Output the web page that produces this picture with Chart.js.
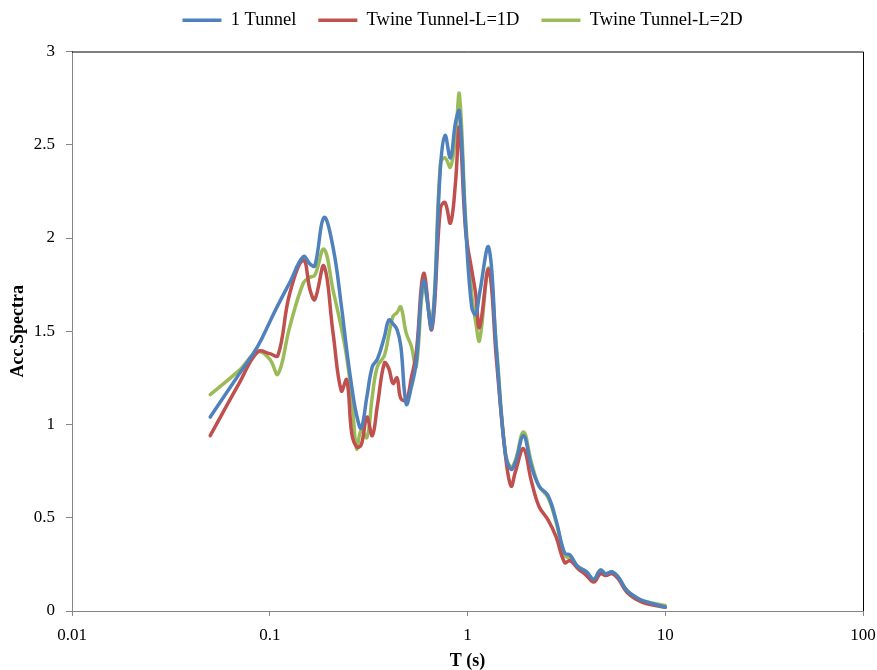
<!DOCTYPE html>
<html>
<head>
<meta charset="utf-8">
<script src="https://cdn.jsdelivr.net/npm/chart.js@4/dist/chart.umd.min.js"></script>
<style>
  html, body { margin: 0; padding: 0; background: #ffffff; }
  #wrap { width: 877px; height: 670px; }
</style>
</head>
<body>
<div id="wrap"><canvas id="spectraChart" width="877" height="670"></canvas></div>
<script>
const colors = {
    blue: '#4f81bd',
    red: '#c0504d',
    green: '#9bbb59',
    axis: '#868686'
};

// Period T (s)
const periods = [0.05, 0.07, 0.087, 0.1, 0.11, 0.126, 0.148, 0.16, 0.169, 0.188,
    0.209, 0.23, 0.245, 0.26, 0.275, 0.29, 0.31, 0.33, 0.35, 0.38,
    0.40, 0.42, 0.44, 0.46, 0.49, 0.52, 0.55, 0.6, 0.66, 0.73,
    0.77, 0.82, 0.87, 0.91, 0.98, 1.05, 1.1, 1.15, 1.28, 1.4,
    1.55, 1.66, 1.75, 1.92, 2.1, 2.3, 2.55, 2.8, 3.1, 3.3,
    3.6, 4.0, 4.35, 4.7, 5.0, 5.4, 5.8, 6.4, 7.2, 8.0, 10];

const oneTunnel = [1.04, 1.27, 1.42, 1.55, 1.64, 1.76, 1.90, 1.86, 1.85, 2.11,
    1.95, 1.64, 1.40, 1.20, 1.05, 0.98, 1.15, 1.31, 1.35, 1.47,
    1.56, 1.54, 1.51, 1.42, 1.11, 1.20, 1.33, 1.77, 1.52, 2.38,
    2.55, 2.43, 2.62, 2.68, 2.05, 1.63, 1.59, 1.70, 1.95, 1.40,
    0.85, 0.76, 0.80, 0.94, 0.78, 0.67, 0.62, 0.49, 0.31, 0.30,
    0.24, 0.21, 0.17, 0.22, 0.20, 0.21, 0.18, 0.11, 0.07, 0.05, 0.02];

const twinL1D = [0.94, 1.22, 1.39, 1.38, 1.37, 1.70, 1.88, 1.72, 1.67, 1.85,
    1.49, 1.18, 1.24, 0.95, 0.88, 0.89, 1.04, 0.94, 1.10, 1.33,
    1.30, 1.22, 1.25, 1.14, 1.13, 1.25, 1.38, 1.81, 1.51, 2.16,
    2.19, 2.08, 2.30, 2.59, 2.03, 1.83, 1.70, 1.52, 1.83, 1.35,
    0.85, 0.67, 0.75, 0.87, 0.70, 0.56, 0.49, 0.40, 0.26, 0.27,
    0.23, 0.19, 0.155, 0.20, 0.19, 0.20, 0.17, 0.10, 0.06, 0.04, 0.02];

const twinL2D = [1.16, 1.29, 1.39, 1.35, 1.27, 1.52, 1.76, 1.79, 1.80, 1.94,
    1.72, 1.52, 1.36, 1.15, 0.87, 0.97, 0.93, 1.15, 1.31, 1.37,
    1.48, 1.58, 1.60, 1.63, 1.49, 1.42, 1.31, 1.74, 1.54, 2.40,
    2.43, 2.38, 2.55, 2.77, 2.09, 1.70, 1.55, 1.45, 1.84, 1.42,
    0.86, 0.77, 0.81, 0.96, 0.80, 0.67, 0.61, 0.48, 0.30, 0.28,
    0.24, 0.21, 0.17, 0.22, 0.20, 0.21, 0.18, 0.11, 0.07, 0.05, 0.03];

const xTicks = [0.01, 0.1, 1, 10, 100];

function toPoints(values) {
    return periods.map((t, i) => ({ x: t, y: values[i] }));
}

function seriesStyle(label, values, color) {
    return {
        label: label,
        data: toPoints(values),
        borderColor: color,
        backgroundColor: color,
        borderWidth: 3.5,
        borderCapStyle: 'round',
        borderJoinStyle: 'round',
        pointRadius: 0,
        pointHoverRadius: 0,
        pointStyle: 'line',
        tension: 0.4,
        fill: false
    };
}

// marco negro arriba y a la derecha
const frameBorder = {
    id: 'frameBorder',
    afterDraw(chart) {
        const { ctx, chartArea: a } = chart;
        ctx.save();
        ctx.strokeStyle = '#000000';
        ctx.lineWidth = 1;
        ctx.beginPath();
        ctx.moveTo(a.left, a.top + 0.5);
        ctx.lineTo(a.right + 0.5, a.top + 0.5);
        ctx.lineTo(a.right + 0.5, a.bottom);
        ctx.stroke();
        ctx.restore();
    }
};

// ajustar tamaño y posición de la leyenda
const legendPlace = {
    id: 'legendPlace',
    beforeInit(chart) {
        const fit = chart.legend.fit;
        chart.legend.fit = function () {
            fit.bind(chart.legend)();
            this.height -= 3;
        };
    },
    afterLayout(chart) {
        const lg = chart.legend;
        lg.left += 31;
        lg.right += 31;
        lg.top -= 15;
        lg.bottom -= 15;
    }
};

const serif = 'Liberation Serif, Times New Roman, serif';

const ctx = document.getElementById('spectraChart').getContext('2d');
const spectraChart = new Chart(ctx, {
    type: 'line',
    data: {
        datasets: [
            seriesStyle('1 Tunnel', oneTunnel, colors.blue),
            seriesStyle('Twine Tunnel-L=1D', twinL1D, colors.red),
            seriesStyle('Twine Tunnel-L=2D', twinL2D, colors.green)
        ]
    },
    plugins: [frameBorder, legendPlace],
    options: {
        responsive: false,
        animation: false,
        layout: { padding: { left: 0, right: 14, top: 4, bottom: 0 } },
        plugins: {
            legend: {
                position: 'top',
                labels: {
                    usePointStyle: true,
                    pointStyleWidth: 39,
                    padding: 22,
                    color: '#000000',
                    font: { family: serif, size: 18.5 }
                }
            },
            tooltip: { enabled: false }
        },
        scales: {
            x: {
                type: 'logarithmic',
                min: 0.01,
                max: 100,
                afterBuildTicks: scale => {
                    scale.ticks = xTicks.map(v => ({ value: v }));
                },
                afterFit: scale => {
                    scale.height = 59;
                    scale.paddingLeft = 0;
                    scale.paddingRight = 0;
                },
                border: { color: colors.axis, width: 1 },
                grid: { drawOnChartArea: false, drawTicks: true, tickLength: 5, color: colors.axis },
                ticks: {
                    color: '#000000',
                    padding: 9,
                    maxRotation: 0,
                    autoSkip: false,
                    font: { family: serif, size: 17 },
                    callback: v => String(v)
                },
                title: {
                    display: true,
                    text: 'T (s)',
                    color: '#000000',
                    padding: { top: 0, bottom: 0 },
                    font: { family: serif, size: 18, weight: 'bold', lineHeight: 1 }
                }
            },
            y: {
                min: 0,
                max: 3,
                afterFit: scale => { scale.width = 72; },
                border: { color: colors.axis, width: 1 },
                grid: { drawOnChartArea: false, drawTicks: true, tickLength: 6, color: colors.axis },
                ticks: {
                    stepSize: 0.5,
                    color: '#000000',
                    padding: 11,
                    font: { family: serif, size: 17 },
                    callback: v => String(v)
                },
                title: {
                    display: true,
                    text: 'Acc.Spectra',
                    color: '#000000',
                    padding: { top: 9, bottom: 0 },
                    font: { family: serif, size: 18, weight: 'bold', lineHeight: 1 }
                }
            }
        }
    }
});
</script>
</body>
</html>
